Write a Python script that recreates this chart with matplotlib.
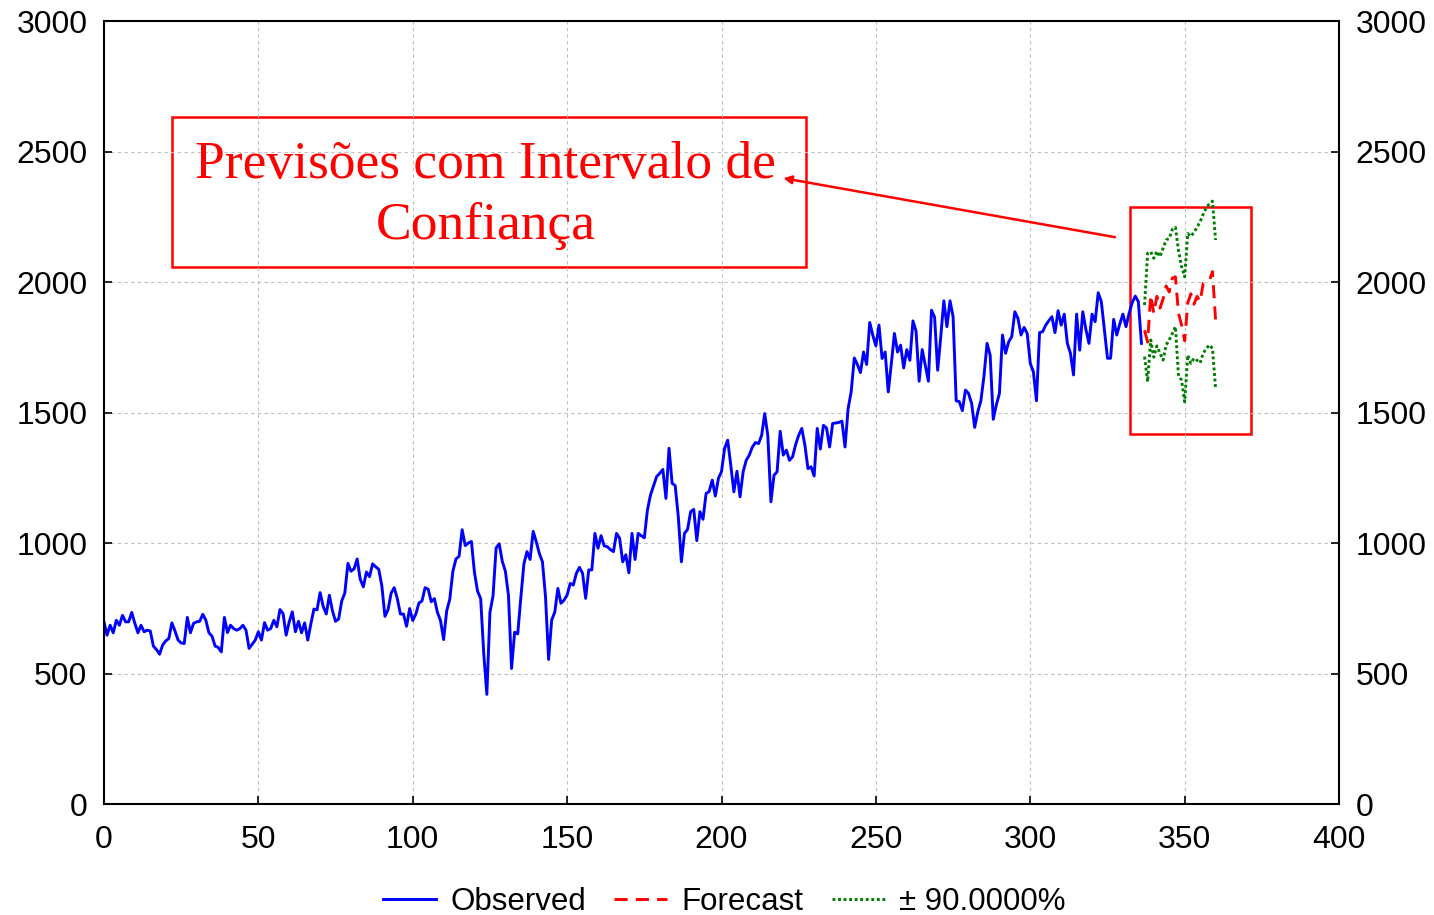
import numpy as np
from matplotlib import pyplot as plt

plt.rcParams['font.family'] = ['Liberation Sans', 'DejaVu Sans']

# Observed series in pieces
observed_a = [698, 647, 685, 656, 704, 685, 723, 698, 698, 734,
              692, 656, 685, 660, 666, 663, 605, 592, 574, 609,
              625, 634, 694, 663, 628, 617, 615, 715, 656, 692,
              698, 700, 727, 704, 656, 643, 605, 600, 583, 715,
              657, 685, 672, 666, 672, 685, 666, 596, 612, 628,
              660, 628, 695, 666, 672, 704, 679, 745, 730, 647,
              698, 736, 660, 700, 656, 694, 628]
observed_b = [690,
              747, 744, 810, 757, 728, 800, 740, 700, 709, 778,
              808, 922, 892, 901, 939, 861, 832, 889, 871, 920,
              909, 899, 835, 719, 744, 808, 829, 787, 728, 728,
              681, 749, 703, 728, 770, 778, 829, 823, 775, 787,
              734, 703, 630, 740, 785, 892, 939, 949, 1051, 990,
              1000, 1006, 886, 815, 787, 576, 420, 734, 797, 981,
              997, 930, 892, 800, 519, 658, 652, 790]
observed_c = [920, 967, 937, 1045, 1005, 960, 928, 794, 554, 705,
              735, 826, 769, 781, 801, 845, 839, 884, 907, 884,
              788, 897, 897, 1037, 980, 1028, 989, 986, 975, 967,
              1037, 1018, 928, 955, 886, 1037, 937, 1037, 1028, 1020,
              1126, 1184, 1220, 1255, 1267, 1282, 1171, 1363, 1229, 1220,
              1101, 928, 1037, 1052, 1120, 1129, 1009, 1120, 1091, 1190,
              1197, 1241, 1180, 1248, 1274, 1363]
observed_d = [1394, 1298, 1196, 1275, 1177, 1273, 1317, 1337, 1368, 1385,
              1381, 1413, 1496, 1410, 1158, 1260, 1273, 1428, 1337, 1356,
              1317, 1330, 1377, 1413, 1439, 1375, 1285, 1292, 1257, 1439,
              1360, 1451, 1441, 1368, 1458, 1460, 1462, 1467, 1368, 1515,
              1580, 1709, 1684, 1653, 1732, 1684, 1845, 1796, 1755, 1835,
              1707, 1732, 1579, 1688, 1803, 1732, 1758, 1671, 1741, 1700,
              1851, 1812, 1620, 1741, 1681, 1620, 1892, 1866, 1662]
observed_e = [1790, 1928, 1829, 1928, 1867, 1545, 1542, 1507, 1586, 1573,
              1535, 1443, 1503, 1545, 1640, 1765, 1720, 1474, 1529, 1573,
              1797, 1727, 1771, 1791, 1886, 1861, 1797, 1826, 1803, 1688,
              1656, 1545, 1806, 1810, 1835, 1852, 1867, 1806, 1890, 1835,
              1877, 1765, 1727, 1644, 1877, 1739, 1886, 1819, 1765, 1877,
              1848, 1959, 1925, 1816, 1708, 1708, 1857, 1797, 1840, 1877,
              1829, 1880, 1921, 1946, 1925, 1765]

# Forecast and 90% limits
forecast = [1815, 1770, 1950, 1880, 1945, 1900, 1935, 1985, 1962, 2015, 2020, 1880,
            1835, 1775, 1920, 1955, 1915, 1945, 1925, 1995, 2000, 2005, 2040, 1855]
upper = [1912, 2110, 2116, 2091, 2118, 2097, 2129, 2161, 2167, 2202, 2210, 2120,
         2059, 2020, 2186, 2175, 2190, 2210, 2231, 2260, 2285, 2300, 2310, 2161]
lower = [1714, 1618, 1778, 1712, 1755, 1727, 1701, 1759, 1778, 1803, 1829, 1640,
         1624, 1541, 1720, 1688, 1708, 1700, 1690, 1727, 1745, 1759, 1746, 1593]

x_ticks = [0, 50, 100, 150, 200, 250, 300, 350, 400]
y_ticks = [0, 500, 1000, 1500, 2000, 2500, 3000]

observed = observed_a + observed_b + observed_c + observed_d + observed_e
x_obs = np.arange(len(observed))
x_fc = np.arange(len(observed), len(observed) + len(forecast))

# Figure
fig = plt.figure(figsize=(14.34, 9.15), dpi=100)
ax = fig.add_axes([0.0725, 0.1213, 0.8613, 0.8557])

ax.plot(x_obs, observed, color='#0000ff', lw=2.1, label='Observed')
ax.plot(x_fc, forecast, color='#ff0000', lw=2.1, dashes=(4.5, 2.8), label='Forecast')
ax.plot(x_fc, upper, color='#008000', lw=2.1, dashes=(1, 0.9), label='\u00b1 90.0000%')
ax.plot(x_fc, lower, color='#008000', lw=2.1, dashes=(1, 0.9))

ax.set_xlim(0, 400)
ax.set_ylim(0, 3000)
ax.set_xticks(x_ticks)
ax.set_yticks(y_ticks)
ax.grid(True, color='#c0c0c0', ls=(0, (3, 3)), lw=0.8)
ax.tick_params(direction='in', length=6, width=1.2, labelsize=23, pad=12,
               right=True, labelright=True)
ax.tick_params(axis='x', pad=15)
for s in ax.spines.values():
    s.set_linewidth(1.5)

# Annotation box and arrow
ax.text(123.5, 2331, 'Previs\u00f5es com Intervalo de\nConfian\u00e7a', color='#ff0000',
        family=['Liberation Serif', 'DejaVu Serif'], fontsize=38.5, ha='center', va='center',
        linespacing=1.35)
ax.add_patch(plt.Rectangle((22.0, 2057), 205.4, 575, fill=False, ec='#ff0000', lw=1.8))
ax.add_patch(plt.Rectangle((332.3, 1418), 39.2, 869, fill=False, ec='#ff0000', lw=1.8))
ax.annotate('', xy=(220, 2398), xytext=(327.4, 2172),
            arrowprops=dict(arrowstyle='-|>', color='#ff0000', lw=1.8, mutation_scale=12,
                            shrinkA=0, shrinkB=0))

fig.legend(loc='lower center', bbox_to_anchor=(0.505, -0.033), ncol=3, frameon=False,
           fontsize=22.5, handlelength=1.7, columnspacing=0.9, handletextpad=0.45)

plt.savefig('out.png')
